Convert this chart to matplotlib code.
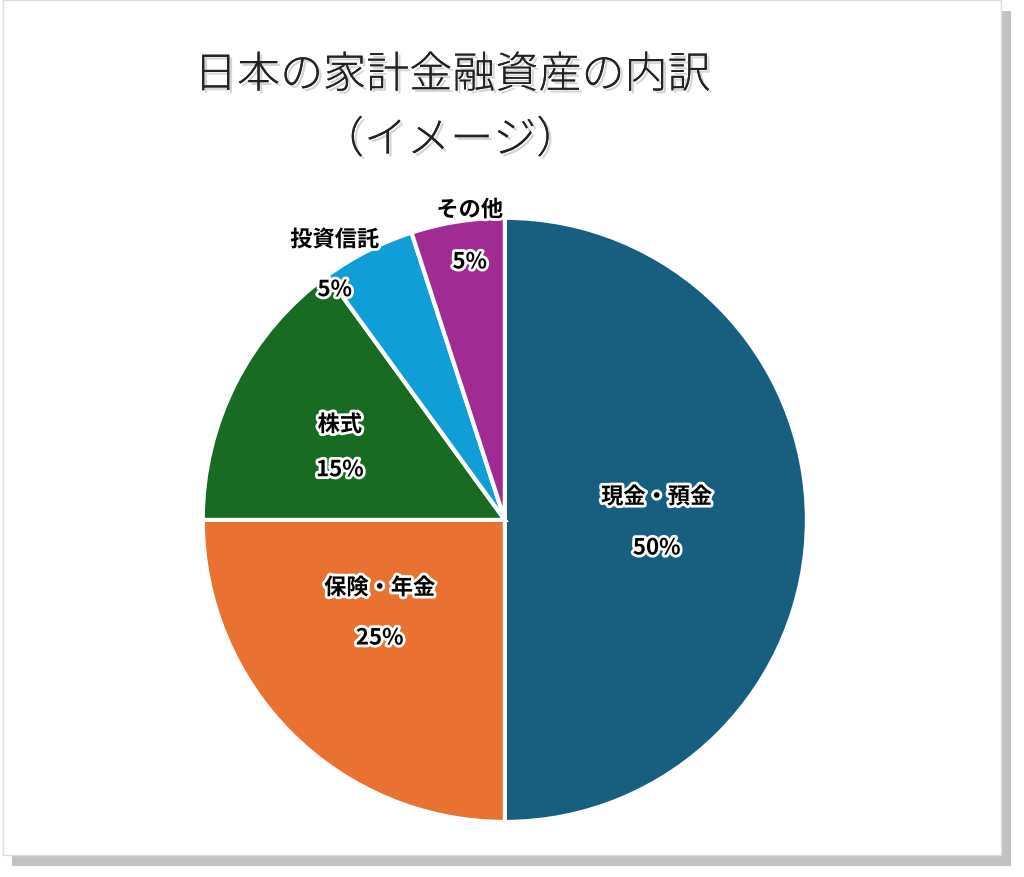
import matplotlib
matplotlib.use("Agg")
import matplotlib.pyplot as plt
import matplotlib.patheffects as pe
from matplotlib.patches import Rectangle

plt.rcParams['font.family'] = ['Noto Sans CJK JP', 'DejaVu Sans']

categories = ['現金・預金', '保険・年金', '株式', '投資信託', 'その他']
values = [50, 25, 15, 5, 5]
colors = ['#175e7f', '#e97132', '#196b24', '#0f9ed5', '#a02b93']
label_pos = [(0.503, 0.076, -0.093), (-0.414, -0.225, -0.391), (-0.546, 0.315, 0.166),
             (-0.563, 0.927, 0.762), (-0.116, 1.026, 0.854)]

fig = plt.figure(figsize=(10.24, 8.77), dpi=100)
fig.patch.set_facecolor('white')
# shadowed frame
fig.patches.append(Rectangle((0.012, 0.012), 0.975, 0.975, transform=fig.transFigure,
                             facecolor='#9a9a9a', edgecolor='none', zorder=0, alpha=0.6))
fig.patches.append(Rectangle((0.003, 0.025), 0.975, 0.975, transform=fig.transFigure,
                             facecolor='white', edgecolor='#dddddd', zorder=1))

ax = fig.add_axes([0.198, 0.0627, 0.590, 0.689])
ax.set_zorder(5)
ax.patch.set_visible(False)
ax.pie(values, colors=colors, startangle=90, counterclock=False,
       wedgeprops=dict(edgecolor='white', linewidth=3))
ax.set_xlim(-1, 1); ax.set_ylim(-1, 1); ax.set_aspect('equal')
glow = [pe.withStroke(linewidth=4, foreground='white')]
for cat, v, (x, y1, y2) in zip(categories, values, label_pos):
    ax.text(x, y1, cat, ha='center', va='center', fontsize=16, fontweight='bold',
            color='black', path_effects=glow, clip_on=False)
    ax.text(x, y2, f'{v}%', ha='center', va='center', fontsize=16, fontweight='bold',
            color='black', path_effects=glow, clip_on=False)

tglow = [pe.withSimplePatchShadow(offset=(2, -2), shadow_rgbFace='#aaaaaa', alpha=0.5), pe.Normal()]
fig.text(452/1024, 1-75/877, '日本の家計金融資産の内訳', ha='center', va='center',
         fontsize=31, fontweight='light', color='#222222', path_effects=tglow, zorder=6)
fig.text(450/1024, 1-140/877, '（イメージ）', ha='center', va='center',
         fontsize=31, fontweight='light', color='#222222', path_effects=tglow, zorder=6)

fig.savefig('out.png', dpi=100)
